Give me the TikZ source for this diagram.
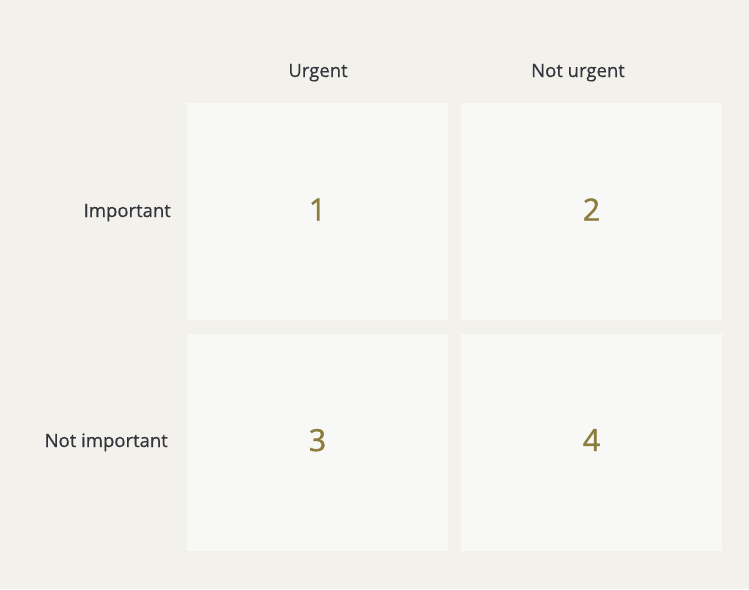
\documentclass[tikz,border=0pt]{standalone}
\usepackage{fontspec}
\setmainfont[FakeBold=0.4]{Open Sans}
\newfontfamily\numfont[FakeBold=1.2]{Open Sans}
\usetikzlibrary{positioning}
\definecolor{pagebg}{HTML}{F3F1EC}
\definecolor{cellbg}{HTML}{F8F8F7}
\definecolor{labelgray}{HTML}{34343C}
\definecolor{olive}{HTML}{8B7D3E}

\begin{document}
\begin{tikzpicture}[x=1pt, y=-1pt, font=\fontsize{18.5}{22}\selectfont,
	cell/.style={fill=cellbg, draw=none, minimum width=261pt, minimum height=217pt, inner sep=0pt,
		text depth=4pt, text=olive, font=\numfont\fontsize{30.5}{34}\selectfont},
	axislabel/.style={text=labelgray, inner sep=0pt}]
		
		% ===== page =====
		\fill[pagebg] (0,0) rectangle (749,589);
		\useasboundingbox (0,0) rectangle (749,589);
		
		% ===== the four cells =====
		\node[cell] (q1) at (317.5,211.5) {1};
		\node[cell] (q2) at (591.5,211.5) {2};
		\node[cell] (q3) at (317.5,442) {3};
		\node[cell] (q4) at (591.5,442) {4};
		
		% ===== column and row labels =====
		\node[axislabel, anchor=base] (urgent) at (318,77) {Urgent};
		\node[axislabel, anchor=base] (noturgent) at (578,77) {Not urgent};
		\node[axislabel, anchor=base east] (important) at (171,217) {Important};
		\node[axislabel, anchor=base east] (notimportant) at (168,447) {Not important};
		
	\end{tikzpicture}
\end{document}
